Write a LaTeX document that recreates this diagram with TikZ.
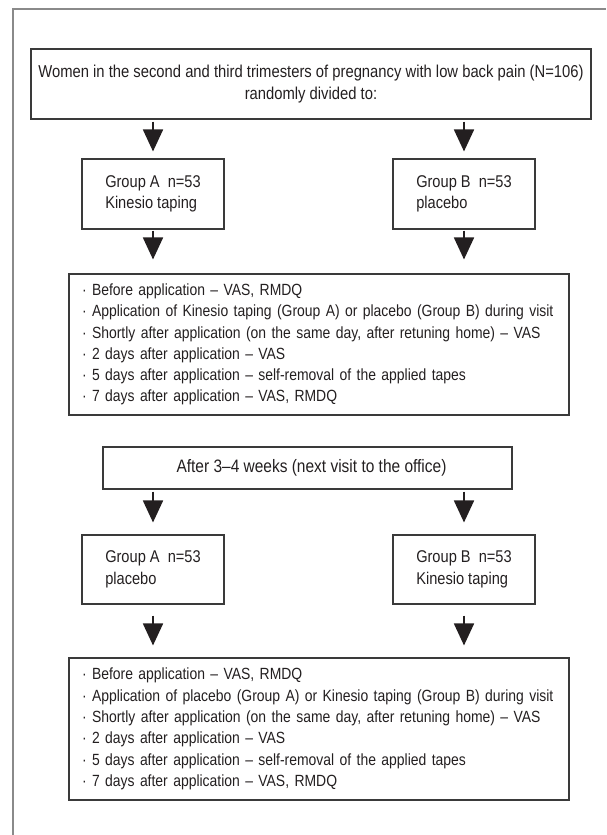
\documentclass[tikz,border=0pt]{standalone}
\usepackage{fontspec}
\setmainfont{Liberation Sans}[FakeStretch=0.86]
\usetikzlibrary{arrows.meta}
\definecolor{ink}{HTML}{231F20}
\definecolor{edge}{HTML}{3A3A3A}
\definecolor{framegray}{HTML}{8A8A8A}
\begin{document}
\begin{tikzpicture}[x=1pt,y=-1pt,
  box/.style={draw=edge, line width=1.1pt, inner sep=0pt, text=ink, font=\fontsize{17}{21.5}\selectfont},
  grp/.style={box, minimum width=142pt, minimum height=70pt, align=left},
  listbox/.style={box, minimum width=500pt, text width=474pt, inner xsep=13pt, align=left, font=\fontsize{16.2}{21.3}\selectfont},
  arr/.style={draw=ink, line width=1.8pt, -{Triangle[width=20pt,length=22pt]}}]
\useasboundingbox (0,0) rectangle (606,835);
% frame
\coordinate (fb) at (13,835);
\coordinate (fc) at (13,9);
\coordinate (fr) at (606,9);
\draw[framegray, line width=1.3pt] (fb) -- (fc) -- (fr);
% nodes
\node[box, minimum width=560pt, minimum height=70pt, align=center, font=\fontsize{17.2}{22}\selectfont] (top) at (311,84)
  {Women in the second and third trimesters of pregnancy with low back pain (N=106)\\randomly divided to:};
\node[grp] (ga1) at (153,194) {Group A~~n=53\\Kinesio taping};
\node[grp] (gb1) at (464,194) {Group B~~n=53\\placebo};
\node[listbox, minimum height=141pt] (l1) at (319,344.5)
  {\mbox{· Before application – VAS, RMDQ}\\
   \mbox{· Application of Kinesio taping (Group A) or placebo (Group B) during visit}\\
   \mbox{· Shortly after application (on the same day, after retuning home) – VAS}\\
   \mbox{· 2 days after application – VAS}\\
   \mbox{· 5 days after application – self-removal of the applied tapes}\\
   \mbox{· 7 days after application – VAS, RMDQ}};
\node[box, minimum width=409pt, minimum height=42pt, align=center, font=\fontsize{18}{22}\selectfont] (after) at (307.5,468)
  {\hspace*{8pt}After 3–4 weeks (next visit to the office)};
\node[grp, minimum height=69pt] (ga2) at (153,569.5) {Group A~~n=53\\placebo};
\node[grp, minimum height=69pt] (gb2) at (464,569.5) {Group B~~n=53\\Kinesio taping};
\node[listbox, minimum height=142pt] (l2) at (319,729)
  {\mbox{· Before application – VAS, RMDQ}\\
   \mbox{· Application of placebo (Group A) or Kinesio taping (Group B) during visit}\\
   \mbox{· Shortly after application (on the same day, after retuning home) – VAS}\\
   \mbox{· 2 days after application – VAS}\\
   \mbox{· 5 days after application – self-removal of the applied tapes}\\
   \mbox{· 7 days after application – VAS, RMDQ}};
% arrows
\draw[arr, shorten <=2pt, shorten >=7pt] (ga1.north |- top.south) -- (ga1.north);
\draw[arr, shorten <=2pt, shorten >=7pt] (gb1.north |- top.south) -- (gb1.north);
\draw[arr, shorten <=1pt, shorten >=14pt] (ga1.south) -- (ga1.south |- l1.north);
\draw[arr, shorten <=1pt, shorten >=14pt] (gb1.south) -- (gb1.south |- l1.north);
\draw[arr, shorten <=2pt, shorten >=12pt] (ga2.north |- after.south) -- (ga2.north);
\draw[arr, shorten <=2pt, shorten >=12pt] (gb2.north |- after.south) -- (gb2.north);
\draw[arr, shorten <=11pt, shorten >=12pt] (ga2.south) -- (ga2.south |- l2.north);
\draw[arr, shorten <=11pt, shorten >=12pt] (gb2.south) -- (gb2.south |- l2.north);
\end{tikzpicture}
\end{document}
